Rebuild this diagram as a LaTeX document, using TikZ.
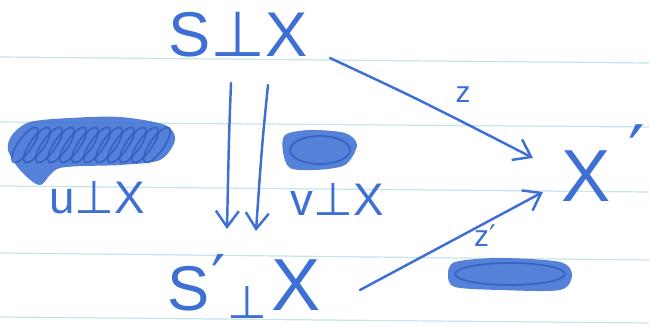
\documentclass[tikz,border=0pt]{standalone}
\usepackage{fontspec}
\setmainfont{Liberation Sans}
\newfontfamily\symfont{DejaVu Sans}
\usetikzlibrary{arrows.meta}
\definecolor{Ink}{HTML}{3D6FD4}
\definecolor{InkDark}{HTML}{2B58BE}
\definecolor{Rule}{HTML}{C4E5E9}
\newcommand{\tack}{{\symfont ⊥}}
\newcommand{\prm}{{\symfont ′}}

\begin{document}
\begin{tikzpicture}[x=0.02cm,y=-0.02cm,
  hand/.style={text=Ink,inner sep=0pt},
  arr/.style={draw=Ink,line width=1.4pt,line cap=round,
    -{Straight Barb[length=0.32cm,width=0.46cm,line width=1.4pt]}},
  blot/.style={fill=Ink,opacity=.88},
  loopy/.style={draw=InkDark,line width=1pt,opacity=.7}]
\path[use as bounding box] (0,0) rectangle (649,327);
% ruled paper
\foreach \ya/\yb in {57/63,122/127,186/192,253/260,317/323}
  \draw[Rule,line width=0.7pt] (0,\ya) -- (649,\yb);
% crossed out words
\fill[blot] plot[smooth cycle] coordinates {(12,135) (30,122) (70,118) (120,117) (165,125) (175,140) (160,160) (120,165) (60,168) (40,185) (20,170) (8,150)};
\foreach \x in {25,37,...,165}
  \draw[loopy,rotate around={-35:(\x,145)}] (\x,145) ellipse (0.14cm and 0.42cm);
\fill[blot] plot[smooth cycle] coordinates {(285,135) (310,130) (345,133) (357,145) (345,165) (315,170) (290,168) (283,152)};
\draw[loopy] (320,150) ellipse (0.6cm and 0.28cm);
\fill[blot] plot[smooth cycle] coordinates {(455,262) (500,258) (560,262) (572,275) (560,290) (500,290) (455,287) (448,275)};
\draw[loopy] (510,274) ellipse (1.1cm and 0.22cm);
% terms
\node[hand,font=\fontsize{36}{40}\selectfont] (top) at (238,35) {S\tack X};
\node[hand,font=\fontsize{36}{40}\selectfont,anchor=base] (bot) at (244,311)
  {S\kern1pt\raisebox{6pt}{\prm}\kern1pt\raisebox{-4pt}{\fontsize{26}{28}\selectfont\tack}\kern2pt{\fontsize{42}{44}\selectfont X}};
\node[hand,font=\fontsize{42}{44}\selectfont] (xp) at (603,163) {X\kern10pt\raisebox{13pt}{\prm}};
\node[hand,font=\fontsize{26}{28}\selectfont] (u) at (97,198) {u\tack X};
\node[hand,font=\fontsize{26}{28}\selectfont] (v) at (337,200) {v\tack X};
\node[hand,font=\fontsize{17}{18}\selectfont] (zl) at (463,95) {z};
\node[hand,font=\fontsize{17}{18}\selectfont] (zpl) at (485,236) {z\prm};
% maps
\draw[arr] ([shift={(-7,48)}]top.center) .. controls ([shift={(-9,100)}]top.center) .. ([shift={(-17,-82)}]bot.base);
\draw[arr] ([shift={(30,50)}]top.center) .. controls ([shift={(24,110)}]top.center) .. ([shift={(12,-80)}]bot.base);
\draw[arr] ([shift={(92,23)}]top.center) .. controls (420,100) .. ([shift={(-70,-5)}]xp.center);
\draw[arr] ([shift={(116,-21)}]bot.base) -- ([shift={(-60,29)}]xp.center);
\end{tikzpicture}
\end{document}
